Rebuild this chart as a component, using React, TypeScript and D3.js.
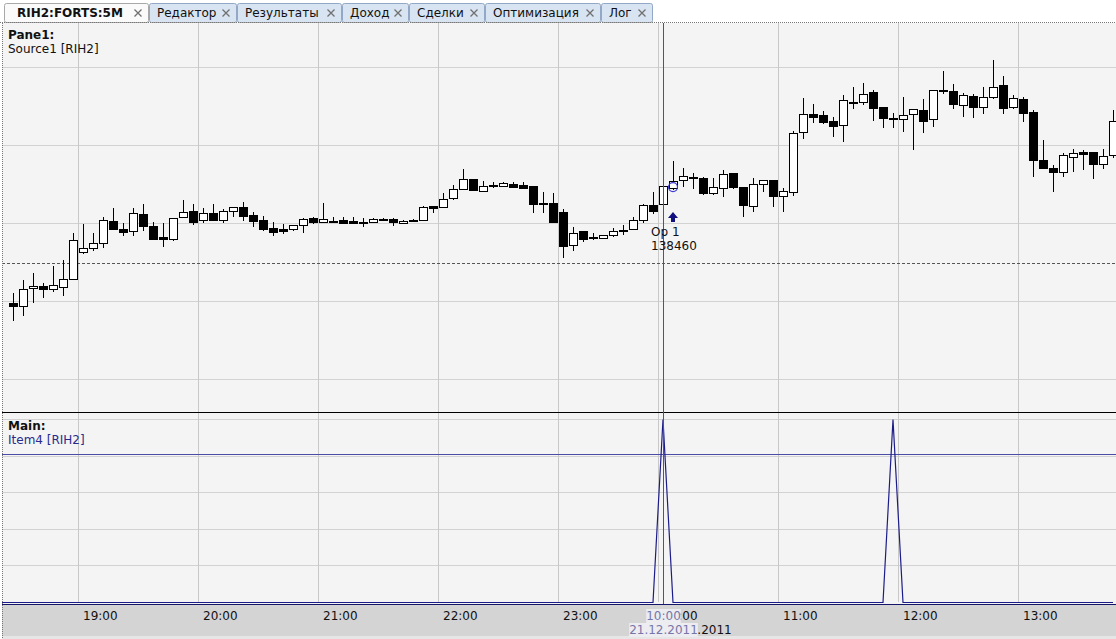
import React, { useEffect, useRef } from 'react';
import * as d3 from 'd3';

// trading sessions shown on the chart (5 minute bars)
const sessions = [
    { date: '20.12.2011', from: '18:25', to: '23:45' },
    { date: '21.12.2011', from: '10:00', to: '13:45' },
];

const opens = [
    136975, 136935, 137170, 137195, 137155, 137180, 137285, 137630, 137680, 137745,
    138025, 137925, 137900, 138115, 137965, 137820, 137795, 138080, 138155, 138040,
    138130, 138040, 138155, 138205, 138105, 138040, 137935, 137925, 137925, 137975,
    138065, 138015, 138015, 138040, 138025, 138015, 138015, 138050, 138050, 138000,
    138040, 138040, 138220, 138205, 138320, 138435, 138565, 138410, 138490, 138475,
    138500, 138490, 138475, 138255, 138255, 138140, 137720, 137900, 137820, 137810,
    137845, 137910, 137925, 138040, 138230, 138245, 138450, 138550, 138590, 138580,
    138385, 138450, 138640, 138465, 138220, 138500, 138550, 138345, 138400, 139170,
    139400, 139385, 139310, 139255, 139550, 139550, 139680, 139490, 139345, 139335,
    139400, 139450, 139335, 139705, 139695, 139515, 139630, 139490, 139615, 139770,
    139490, 139590, 139425, 138810, 138705, 138655, 138845, 138910, 138910, 138760,
    138875,
];
const highs = [
    137105, 137270, 137360, 137230, 137450, 137525, 137875, 137990, 137875, 138080,
    138195, 138000, 138195, 138245, 138015, 138000, 138065, 138295, 138245, 138195,
    138245, 138180, 138205, 138270, 138140, 138090, 138015, 137990, 137975, 138065,
    138080, 138255, 138080, 138080, 138080, 138065, 138065, 138065, 138065, 138040,
    138050, 138220, 138220, 138385, 138490, 138695, 138565, 138540, 138525, 138525,
    138525, 138525, 138475, 138400, 138385, 138180, 137950, 137900, 137875, 137845,
    137935, 137975, 138080, 138245, 138400, 138885, 138795, 138705, 138640, 138590,
    138580, 138680, 138640, 138465, 138580, 138550, 138550, 138450, 139180, 139605,
    139525, 139435, 139360, 139640, 139745, 139795, 139705, 139490, 139410, 139615,
    139465, 139590, 139705, 139950, 139785, 139670, 139655, 139745, 140090, 139885,
    139640, 139615, 139450, 139065, 138745, 138900, 138950, 138935, 138910, 138950,
    139450,
];
const lows = [
    136745, 136810, 136975, 137040, 137115, 137065, 137285, 137605, 137640, 137680,
    137910, 137835, 137835, 137900, 137795, 137695, 137770, 138080, 137975, 138000,
    138040, 138000, 138080, 138025, 137950, 137900, 137835, 137860, 137900, 137875,
    137990, 138000, 138000, 137990, 138000, 137950, 138000, 138025, 137965, 138000,
    138015, 138040, 138130, 138195, 138295, 138425, 138425, 138400, 138450, 138465,
    138450, 138450, 138130, 138130, 138015, 137550, 137640, 137760, 137785, 137795,
    137820, 137845, 137910, 138000, 138115, 138245, 138425, 138465, 138435, 138360,
    138360, 138335, 138435, 138080, 138140, 138400, 138205, 138140, 138345, 139080,
    139285, 139270, 139105, 139040, 139465, 139515, 139310, 139220, 139220, 139170,
    138935, 139155, 139230, 139655, 139465, 139360, 139345, 139400, 139590, 139400,
    139465, 139295, 138590, 138705, 138400, 138590, 138655, 138680, 138565, 138695,
    138835,
];
const closes = [
    136935, 137155, 137195, 137155, 137205, 137285, 137785, 137680, 137745, 138040,
    137925, 137885, 138130, 137965, 137795, 137795, 138065, 138140, 138015, 138130,
    138040, 138155, 138205, 138090, 138025, 137925, 137885, 137900, 137975, 138050,
    138015, 138050, 138025, 138000, 138000, 138015, 138050, 138050, 138015, 138025,
    138040, 138205, 138195, 138310, 138435, 138565, 138425, 138475, 138490, 138515,
    138465, 138450, 138245, 138255, 138015, 137705, 137875, 137795, 137820, 137845,
    137900, 137900, 138040, 138230, 138155, 138475, 138540, 138605, 138590, 138385,
    138465, 138630, 138465, 138230, 138500, 138550, 138345, 138410, 139155, 139400,
    139360, 139295, 139245, 139580, 139550, 139655, 139475, 139345, 139345, 139385,
    139465, 139310, 139705, 139695, 139525, 139640, 139490, 139615, 139745, 139475,
    139605, 139410, 138810, 138705, 138655, 138875, 138900, 138885, 138760, 138860,
    139310,
];

// Item4 indicator, one value per bar
const item4 = [
    0, 0, 0, 0, 0, 0, 0, 0, 0, 0, 0, 0, 0, 0, 0, 0, 0, 0, 0, 0,
    0, 0, 0, 0, 0, 0, 0, 0, 0, 0, 0, 0, 0, 0, 0, 0, 0, 0, 0, 0,
    0, 0, 0, 0, 0, 0, 0, 0, 0, 0, 0, 0, 0, 0, 0, 0, 0, 0, 0, 0,
    0, 0, 0, 0, 0,
    1, 0, 0, 0, 0, 0, 0, 0, 0, 0, 0, 0, 0, 0, 0, 0, 0, 0, 0, 0,
    0, 0, 0, 1, 0, 0, 0, 0, 0, 0, 0, 0, 0, 0, 0, 0, 0, 0, 0, 0,
    0, 0, 0, 0, 0, 0,
];
const item4Level = 0.81;

const priceTicks = [136000, 137000, 138000, 139000, 140000];
const item4Ticks = [0.2, 0.4, 0.6, 0.8, 1.0];
const dashedLevel = 137490;

const cursorIndex = 65;
const op = { index: 66, label: 'Op 1', price: 138460 };

const tabLabels = ['RIH2:FORTS:5M', 'Редактор', 'Результаты', 'Доход', 'Сделки', 'Оптимизация', 'Лог'];
const tabEdges = [4, 149, 237, 342, 409, 485, 601, 653];

const FONT = '"DejaVu Sans", Verdana, sans-serif';

export default function App() {
    const svgRef = useRef<SVGSVGElement>(null);

    useEffect(() => {
        if (!svgRef.current) return;
        document.body.style.margin = '0';

        const width = 1116;
        const height = 639;
        const top = 23;
        const split = 412;
        const base = 602;

        const svg = d3.select(svgRef.current);
        svg.selectAll('*').remove();

        // bars times
        const parse = d3.timeParse('%d.%m.%Y %H:%M');
        const fmt = d3.timeFormat('%H:%M');
        const slots: { time: string; date: string }[] = [];
        sessions.forEach(s => {
            const a = parse(`${s.date} ${s.from}`)!;
            const b = parse(`${s.date} ${s.to}`)!;
            d3.timeMinute.every(5)!.range(a, d3.timeMinute.offset(b, 1))
                .forEach(t => slots.push({ time: fmt(t), date: s.date }));
        });

        const x = d3.scaleBand<number>().domain(d3.range(slots.length)).range([8, 8 + slots.length * 10]);
        const cx = (i: number) => (x(i) as number) + 5.5;
        const yP = d3.scaleLinear().domain([136000, 140000]).range([379, 67]);
        const yS = d3.scaleLinear().domain([0, 1]).range([base, 419]);

        // background
        svg.append('rect').attr('width', width).attr('height', height).attr('fill', '#ffffff');
        svg.append('rect').attr('x', 2).attr('y', top).attr('width', width).attr('height', base - top + 3).attr('fill', '#f4f4f4');

        // tabs
        const tabs = svg.append('g').style('font-family', FONT).style('font-size', '12px');
        tabLabels.forEach((label, i) => {
            const x0 = tabEdges[i], x1 = tabEdges[i + 1];
            const active = i === 0;
            tabs.append('rect')
                .attr('x', x0 + 0.5).attr('y', 3.5).attr('width', x1 - x0 - 1).attr('height', 19)
                .attr('rx', 2)
                .attr('fill', active ? '#fafafa' : '#d9e4f2')
                .attr('stroke', active ? '#a8a8a8' : '#93a8c6');
            tabs.append('text')
                .attr('x', x0 + (active ? 13 : 8)).attr('y', 17)
                .attr('fill', '#111')
                .style('font-weight', active ? 'bold' : 'normal')
                .text(label);
            const xc = x1 - 11, yc = 13;
            tabs.append('path')
                .attr('d', `M${xc - 3.5},${yc - 3.5}L${xc + 3.5},${yc + 3.5}M${xc + 3.5},${yc - 3.5}L${xc - 3.5},${yc + 3.5}`)
                .attr('stroke', '#707070').attr('stroke-width', 1.3);
        });

        // grid
        const grid = svg.append('g');
        grid.selectAll('line.h')
            .data(priceTicks).join('line')
            .attr('x1', 2).attr('x2', width)
            .attr('y1', d => Math.round(yP(d)) + 0.5).attr('y2', d => Math.round(yP(d)) + 0.5)
            .attr('stroke', '#d2d2d2');
        grid.selectAll('line.s')
            .data(item4Ticks).join('line')
            .attr('x1', 2).attr('x2', width)
            .attr('y1', d => Math.round(yS(d)) + 0.5).attr('y2', d => Math.round(yS(d)) + 0.5)
            .attr('stroke', '#d2d2d2');

        const hourIdx = slots.map((s, i) => (s.time.endsWith(':00') ? i : -1)).filter(i => i >= 0);
        grid.selectAll('line.v')
            .data(hourIdx).join('line')
            .attr('x1', d => (x(d) as number) + 0.5).attr('x2', d => (x(d) as number) + 0.5)
            .attr('y1', top).attr('y2', base)
            .attr('stroke', '#c8c8c8');

        // dashed level
        svg.append('line')
            .attr('x1', 2).attr('x2', width)
            .attr('y1', Math.round(yP(dashedLevel)) + 0.5).attr('y2', Math.round(yP(dashedLevel)) + 0.5)
            .attr('stroke', '#555').attr('stroke-dasharray', '3,2');

        // candles
        const data = opens.map((o, i) => ({ i, o, h: highs[i], l: lows[i], c: closes[i] }));
        const cg = svg.append('g').selectAll('g').data(data).join('g');
        cg.append('line')
            .attr('x1', d => cx(d.i)).attr('x2', d => cx(d.i))
            .attr('y1', d => Math.round(yP(d.h))).attr('y2', d => Math.round(yP(d.l)))
            .attr('stroke', '#000');
        cg.append('rect')
            .attr('x', d => (x(d.i) as number) + 1.5)
            .attr('width', 8)
            .attr('y', d => Math.round(yP(Math.max(d.o, d.c))) + 0.5)
            .attr('height', d => Math.max(1, Math.round(yP(Math.min(d.o, d.c))) - Math.round(yP(Math.max(d.o, d.c)))))
            .attr('fill', d => (d.c < d.o ? '#000' : '#fff'))
            .attr('stroke', '#000');

        // pane separator
        svg.append('line').attr('x1', 2).attr('x2', width).attr('y1', split + 0.5).attr('y2', split + 0.5).attr('stroke', '#000');

        // Item4 level and series
        svg.append('line')
            .attr('x1', 2).attr('x2', width)
            .attr('y1', Math.round(yS(item4Level)) + 0.5).attr('y2', Math.round(yS(item4Level)) + 0.5)
            .attr('stroke', '#4c4ca6');
        const line = d3.line<number>().x((_, i) => cx(i) - 0.5).y(d => yS(d) + 0.5);
        svg.append('path')
            .attr('d', line(item4))
            .attr('fill', 'none').attr('stroke', '#1c1c88').attr('stroke-width', 1.2);
        svg.append('line').attr('x1', 2).attr('x2', 13).attr('y1', base + 0.5).attr('y2', base + 0.5).attr('stroke', '#1c1c88');

        // axis area
        svg.append('line').attr('x1', 2).attr('x2', width).attr('y1', base + 2.5).attr('y2', base + 2.5).attr('stroke', '#14146a');
        svg.append('rect').attr('x', 2).attr('y', base + 3).attr('width', width).attr('height', height - base - 3).attr('fill', '#d4d4d4');
        svg.append('rect').attr('x', 2).attr('y', height - 3).attr('width', width).attr('height', 3).attr('fill', '#e6e6e6');

        const axis = svg.append('g').style('font-family', FONT).style('font-size', '12px').attr('fill', '#111');
        hourIdx.forEach(i => {
            axis.append('text').attr('x', (x(i) as number) + 5).attr('y', 620).text(slots[i].time);
            if (i > 0 && slots[i - 1].date !== slots[i].date) {
                axis.append('text').attr('x', (x(i) as number) + 5).attr('y', 634).text(slots[i].date);
            }
        });

        // cursor
        const cxC = cx(cursorIndex);
        svg.append('line')
            .attr('x1', cxC).attr('x2', cxC).attr('y1', top).attr('y2', base + 2)
            .attr('stroke', '#4a4ab8');
        const cur = svg.append('g').style('font-family', FONT).style('font-size', '12px');
        [{ t: slots[cursorIndex].time, y: 620 }, { t: slots[cursorIndex].date, y: 634 }].forEach(r => {
            const txt = cur.append('text')
                .attr('x', cxC).attr('y', r.y).attr('text-anchor', 'middle')
                .attr('fill', '#7676aa').text(r.t);
            const bb = (txt.node() as SVGTextElement).getBBox();
            cur.insert('rect', 'text')
                .attr('x', bb.x).attr('y', r.y - 11).attr('width', bb.width).attr('height', 14)
                .attr('fill', '#ececf1');
        });

        // trade marker
        const ox = cx(op.index) - 0.5;
        const oy = yP(op.price);
        svg.append('circle')
            .attr('cx', ox).attr('cy', oy).attr('r', 4.5)
            .attr('fill', 'none').attr('stroke', '#3d3dd6').attr('stroke-width', 1.2);
        const ay = oy + 25;
        svg.append('path')
            .attr('d', `M${ox},${ay}L${ox + 5},${ay + 6}L${ox + 2},${ay + 6}L${ox + 2},${ay + 10}L${ox - 2},${ay + 10}L${ox - 2},${ay + 6}L${ox - 5},${ay + 6}Z`)
            .attr('fill', '#10107e');
        const opText = svg.append('g').style('font-family', FONT).style('font-size', '12px').attr('fill', '#111');
        opText.append('text').attr('x', ox - 22).attr('y', ay + 24).text(op.label);
        opText.append('text').attr('x', ox - 22).attr('y', ay + 38).text(String(op.price));

        // pane captions
        const cap = svg.append('g').style('font-family', FONT).style('font-size', '12px');
        cap.append('text').attr('x', 8).attr('y', 39).style('font-weight', 'bold').attr('fill', '#111').text('Pane1:');
        cap.append('text').attr('x', 8).attr('y', 53).attr('fill', '#111').text('Source1 [RIH2]');
        cap.append('text').attr('x', 8).attr('y', 430).style('font-weight', 'bold').attr('fill', '#111').text('Main:');
        cap.append('text').attr('x', 8).attr('y', 444).attr('fill', '#2a2a8c').text('Item4 [RIH2]');

        // dotted frame
        svg.append('line').attr('x1', 0).attr('x2', width).attr('y1', top - 0.5).attr('y2', top - 0.5)
            .attr('stroke', '#777').attr('stroke-dasharray', '1,1');
        svg.append('line').attr('x1', 2.5).attr('x2', 2.5).attr('y1', top).attr('y2', height)
            .attr('stroke', '#777').attr('stroke-dasharray', '1,1');
    }, []);

    return <svg ref={svgRef} width={1116} height={639} style={{ display: 'block' }} />;
}
